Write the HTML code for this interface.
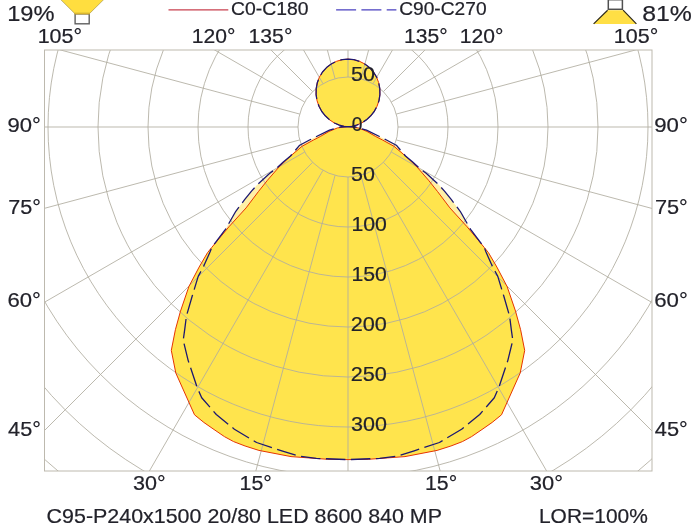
<!DOCTYPE html>
<html><head><meta charset="utf-8"><title>Polar diagram</title>
<style>html,body{margin:0;padding:0;background:#fff}body{width:697px;height:532px;overflow:hidden}</style>
</head><body>
<svg width="697" height="532" viewBox="0 0 697 532" style="display:block">
<defs><clipPath id="fr"><rect x="44.5" y="50.0" width="607.5" height="421.0"/></clipPath></defs>
<rect width="697" height="532" fill="#fff"/>
<g clip-path="url(#fr)">
<polygon points="348.0,126.6 340.3,127.0 329.5,130.2 316.5,136.5 309.5,140.0 299.7,145.2 290.5,156.0 283.6,161.8 276.7,168.1 269.8,173.3 257.2,184.8 251.5,191.1 244.6,199.7 235.8,211.3 225.4,229.4 211.7,247.5 210.1,251.8 203.3,267.1 198.2,276.4 192.3,295.8 186.4,316.1 184.7,329.7 183.2,340.3 188.2,360.6 197.2,387.6 201.7,397.7 216.3,414.5 234.4,429.2 256.6,442.5 281.8,450.8 297.9,455.9 316.3,458.4 348.0,459.6 379.7,458.4 398.1,455.9 414.2,450.8 439.4,442.5 461.6,429.2 479.7,414.5 494.3,397.7 498.8,387.6 507.8,360.6 512.8,340.3 511.3,329.7 509.6,316.1 503.7,295.8 497.8,276.4 492.7,267.1 485.9,251.8 484.3,247.5 470.6,229.4 460.2,211.3 451.4,199.7 444.5,191.1 438.8,184.8 426.2,173.3 419.3,168.1 412.4,161.8 405.5,156.0 396.3,145.2 386.5,140.0 379.5,136.5 366.5,130.2 355.7,127.0 348.0,126.6 348.0,126.6 352.0,126.3 356.7,125.1 361.6,123.0 366.3,119.9 370.5,116.1 374.2,111.5 377.0,106.3 379.0,100.6 379.9,94.7 379.8,88.6 378.7,82.7 376.6,77.1 373.5,72.0 369.5,67.6 364.8,64.0 359.5,61.3 353.9,59.7 348.0,59.1 342.1,59.7 336.5,61.3 331.2,64.0 326.5,67.6 322.5,72.0 319.4,77.1 317.3,82.7 316.2,88.6 316.1,94.7 317.0,100.6 319.0,106.3 321.8,111.5 325.5,116.1 329.7,119.9 334.4,123.0 339.3,125.1 344.0,126.3 348.0,126.6" fill="#fff0a6"/>
<polygon points="348.0,126.6 337.5,127.9 328.9,131.5 320.3,136.5 313.5,140.0 302.0,146.3 290.5,156.1 279.0,167.0 267.5,180.2 258.4,191.6 246.1,207.9 228.9,226.8 211.7,247.5 207.5,252.7 199.1,267.1 188.9,286.5 180.5,311.1 175.4,329.7 171.3,350.4 175.8,373.0 194.5,414.8 203.8,422.4 213.0,428.8 224.4,436.6 233.6,441.6 245.1,446.0 258.9,450.4 291.0,456.6 327.7,459.3 348.0,459.6 368.3,459.3 405.0,456.6 437.1,450.4 450.9,446.0 462.4,441.6 471.6,436.6 483.0,428.8 492.2,422.4 501.5,414.8 520.2,373.0 524.7,350.4 520.6,329.7 515.5,311.1 507.1,286.5 496.9,267.1 488.5,252.7 484.3,247.5 467.1,226.8 449.9,207.9 437.6,191.6 428.5,180.2 417.0,167.0 405.5,156.1 394.0,146.3 382.5,140.0 375.7,136.5 367.1,131.5 358.5,127.9 348.0,126.6 348.0,126.6 352.0,126.3 356.7,125.1 361.6,123.0 366.3,119.9 370.5,116.1 374.2,111.5 377.0,106.3 379.0,100.6 379.9,94.7 379.8,88.6 378.7,82.7 376.6,77.1 373.5,72.0 369.5,67.6 364.8,64.0 359.5,61.3 353.9,59.7 348.0,59.1 342.1,59.7 336.5,61.3 331.2,64.0 326.5,67.6 322.5,72.0 319.4,77.1 317.3,82.7 316.2,88.6 316.1,94.7 317.0,100.6 319.0,106.3 321.8,111.5 325.5,116.1 329.7,119.9 334.4,123.0 339.3,125.1 344.0,126.3 348.0,126.6" fill="#ffe44d"/>
<g fill="none" stroke="#b0ac9f" stroke-width="0.85">
<circle cx="348.0" cy="127.0" r="50"/>
<circle cx="348.0" cy="127.0" r="100"/>
<circle cx="348.0" cy="127.0" r="150"/>
<circle cx="348.0" cy="127.0" r="200"/>
<circle cx="348.0" cy="127.0" r="250"/>
<circle cx="348.0" cy="127.0" r="300"/>
<circle cx="348.0" cy="127.0" r="350"/>
<circle cx="348.0" cy="127.0" r="400"/>
<circle cx="348.0" cy="127.0" r="450"/>
<line x1="348.00" y1="177.00" x2="348.00" y2="727.00"/>
<line x1="360.94" y1="175.30" x2="503.29" y2="706.56"/>
<line x1="373.00" y1="170.30" x2="648.00" y2="646.62"/>
<line x1="383.36" y1="162.36" x2="772.26" y2="551.26"/>
<line x1="391.30" y1="152.00" x2="867.62" y2="427.00"/>
<line x1="396.30" y1="139.94" x2="927.56" y2="282.29"/>
<line x1="398.00" y1="127.00" x2="948.00" y2="127.00"/>
<line x1="396.30" y1="114.06" x2="927.56" y2="-28.29"/>
<line x1="391.30" y1="102.00" x2="867.62" y2="-173.00"/>
<line x1="383.36" y1="91.64" x2="772.26" y2="-297.26"/>
<line x1="373.00" y1="83.70" x2="648.00" y2="-392.62"/>
<line x1="360.94" y1="78.70" x2="503.29" y2="-452.56"/>
<line x1="348.00" y1="77.00" x2="348.00" y2="-473.00"/>
<line x1="335.06" y1="78.70" x2="192.71" y2="-452.56"/>
<line x1="323.00" y1="83.70" x2="48.00" y2="-392.62"/>
<line x1="312.64" y1="91.64" x2="-76.26" y2="-297.26"/>
<line x1="304.70" y1="102.00" x2="-171.62" y2="-173.00"/>
<line x1="299.70" y1="114.06" x2="-231.56" y2="-28.29"/>
<line x1="298.00" y1="127.00" x2="-252.00" y2="127.00"/>
<line x1="299.70" y1="139.94" x2="-231.56" y2="282.29"/>
<line x1="304.70" y1="152.00" x2="-171.62" y2="427.00"/>
<line x1="312.64" y1="162.36" x2="-76.26" y2="551.26"/>
<line x1="323.00" y1="170.30" x2="48.00" y2="646.62"/>
<line x1="335.06" y1="175.30" x2="192.71" y2="706.56"/>
</g>
<polygon points="348.0,126.6 337.5,127.9 328.9,131.5 320.3,136.5 313.5,140.0 302.0,146.3 290.5,156.1 279.0,167.0 267.5,180.2 258.4,191.6 246.1,207.9 228.9,226.8 211.7,247.5 207.5,252.7 199.1,267.1 188.9,286.5 180.5,311.1 175.4,329.7 171.3,350.4 175.8,373.0 194.5,414.8 203.8,422.4 213.0,428.8 224.4,436.6 233.6,441.6 245.1,446.0 258.9,450.4 291.0,456.6 327.7,459.3 348.0,459.6 368.3,459.3 405.0,456.6 437.1,450.4 450.9,446.0 462.4,441.6 471.6,436.6 483.0,428.8 492.2,422.4 501.5,414.8 520.2,373.0 524.7,350.4 520.6,329.7 515.5,311.1 507.1,286.5 496.9,267.1 488.5,252.7 484.3,247.5 467.1,226.8 449.9,207.9 437.6,191.6 428.5,180.2 417.0,167.0 405.5,156.1 394.0,146.3 382.5,140.0 375.7,136.5 367.1,131.5 358.5,127.9 348.0,126.6 348.0,126.6 352.0,126.3 356.7,125.1 361.6,123.0 366.3,119.9 370.5,116.1 374.2,111.5 377.0,106.3 379.0,100.6 379.9,94.7 379.8,88.6 378.7,82.7 376.6,77.1 373.5,72.0 369.5,67.6 364.8,64.0 359.5,61.3 353.9,59.7 348.0,59.1 342.1,59.7 336.5,61.3 331.2,64.0 326.5,67.6 322.5,72.0 319.4,77.1 317.3,82.7 316.2,88.6 316.1,94.7 317.0,100.6 319.0,106.3 321.8,111.5 325.5,116.1 329.7,119.9 334.4,123.0 339.3,125.1 344.0,126.3 348.0,126.6" fill="none" stroke="#e63400" stroke-width="1" stroke-linejoin="round"/>
<polygon points="348.0,126.6 340.3,127.0 329.5,130.2 316.5,136.5 309.5,140.0 299.7,145.2 290.5,156.0 283.6,161.8 276.7,168.1 269.8,173.3 257.2,184.8 251.5,191.1 244.6,199.7 235.8,211.3 225.4,229.4 211.7,247.5 210.1,251.8 203.3,267.1 198.2,276.4 192.3,295.8 186.4,316.1 184.7,329.7 183.2,340.3 188.2,360.6 197.2,387.6 201.7,397.7 216.3,414.5 234.4,429.2 256.6,442.5 281.8,450.8 297.9,455.9 316.3,458.4 348.0,459.6 379.7,458.4 398.1,455.9 414.2,450.8 439.4,442.5 461.6,429.2 479.7,414.5 494.3,397.7 498.8,387.6 507.8,360.6 512.8,340.3 511.3,329.7 509.6,316.1 503.7,295.8 497.8,276.4 492.7,267.1 485.9,251.8 484.3,247.5 470.6,229.4 460.2,211.3 451.4,199.7 444.5,191.1 438.8,184.8 426.2,173.3 419.3,168.1 412.4,161.8 405.5,156.0 396.3,145.2 386.5,140.0 379.5,136.5 366.5,130.2 355.7,127.0 348.0,126.6 348.0,126.6 352.0,126.3 356.7,125.1 361.6,123.0 366.3,119.9 370.5,116.1 374.2,111.5 377.0,106.3 379.0,100.6 379.9,94.7 379.8,88.6 378.7,82.7 376.6,77.1 373.5,72.0 369.5,67.6 364.8,64.0 359.5,61.3 353.9,59.7 348.0,59.1 342.1,59.7 336.5,61.3 331.2,64.0 326.5,67.6 322.5,72.0 319.4,77.1 317.3,82.7 316.2,88.6 316.1,94.7 317.0,100.6 319.0,106.3 321.8,111.5 325.5,116.1 329.7,119.9 334.4,123.0 339.3,125.1 344.0,126.3 348.0,126.6" fill="none" stroke="#1c1872" stroke-width="1.3" stroke-dasharray="19.5 5.5" stroke-dashoffset="10.5" stroke-linejoin="round"/>
</g>
<rect x="44.5" y="50.0" width="607.5" height="421.0" fill="none" stroke="#bdb9ae" stroke-width="1"/>
<line x1="168.5" y1="9.8" x2="228.3" y2="9.8" stroke="#c8414f" stroke-width="1.2"/>
<line x1="336.1" y1="9.9" x2="396.4" y2="9.9" stroke="#4a40c0" stroke-width="1.2" stroke-dasharray="20 5.3"/>
<polygon points="60.1,-1 104.3,-1 89.9,13.2 74.4,13.2" fill="#ffde3f" stroke="#8a7a30" stroke-width="0.5"/>
<rect x="75.1" y="13.9" width="14.1" height="9.9" fill="#fff" stroke="#606060" stroke-width="1.4"/>
<line x1="74.4" y1="13.7" x2="89.9" y2="13.7" stroke="#dcb62c" stroke-width="1.4"/>
<rect x="608.3" y="-0.3" width="14.1" height="9.6" fill="#fff" stroke="#505050" stroke-width="1.5"/>
<polygon points="607.6,10.2 623.1,10.2 636.4,23.9 593.4,23.9" fill="#ffdf45"/>
<path d="M607.6 10.2 L593.6 23.9 M623.1 10.2 L636.4 23.9" stroke="#2e2a1c" stroke-width="1.2" fill="none"/>
<g font-family="'Liberation Sans', Arial, sans-serif" fill="#22222a" stroke="#22222a" stroke-width="0.2">
<text transform="translate(7.15 21.1) scale(1.0479 1)" font-size="22.6px">19%</text>
<text transform="translate(642.22 21.1) scale(1.0979 1)" font-size="22.6px">81%</text>
<text transform="translate(231.02 15.1) scale(1.0750 1)" font-size="18px">C0-C180</text>
<text transform="translate(399.23 15.1) scale(1.0655 1)" font-size="18px">C90-C270</text>
<text transform="translate(37.66 43.3) scale(1.0848 1)" font-size="19.8px">105°</text>
<text transform="translate(191.79 43.3) scale(1.0665 1)" font-size="19.8px">120°</text>
<text transform="translate(248.59 43.3) scale(1.0691 1)" font-size="19.8px">135°</text>
<text transform="translate(404.09 43.3) scale(1.0665 1)" font-size="19.8px">135°</text>
<text transform="translate(459.69 43.3) scale(1.0665 1)" font-size="19.8px">120°</text>
<text transform="translate(613.76 43.3) scale(1.0874 1)" font-size="19.8px">105°</text>
<text transform="translate(7.57 131.7) scale(1.1141 1)" font-size="19.8px">90°</text>
<text transform="translate(8.19 213.5) scale(1.0924 1)" font-size="19.8px">75°</text>
<text transform="translate(7.48 307.3) scale(1.1172 1)" font-size="19.8px">60°</text>
<text transform="translate(8.10 435.7) scale(1.0955 1)" font-size="19.8px">45°</text>
<text transform="translate(654.26 131.7) scale(1.1213 1)" font-size="19.8px">90°</text>
<text transform="translate(654.88 213.5) scale(1.0996 1)" font-size="19.8px">75°</text>
<text transform="translate(654.17 307.3) scale(1.1244 1)" font-size="19.8px">60°</text>
<text transform="translate(654.80 435.7) scale(1.1025 1)" font-size="19.8px">45°</text>
<text transform="translate(132.98 490.4) scale(1.0893 1)" font-size="19.8px">30°</text>
<text transform="translate(239.58 490.4) scale(1.0755 1)" font-size="19.8px">15°</text>
<text transform="translate(424.98 490.4) scale(1.0755 1)" font-size="19.8px">15°</text>
<text transform="translate(529.87 490.4) scale(1.1072 1)" font-size="19.8px">30°</text>
<text transform="translate(350.94 81.2) scale(1.0852 1)" font-size="19.8px">50</text>
<text transform="translate(351.85 131.2) scale(0.9720 1)" font-size="19.8px">0</text>
<text transform="translate(350.94 181.2) scale(1.0852 1)" font-size="19.8px">50</text>
<text transform="translate(351.38 231.2) scale(1.0730 1)" font-size="19.8px">100</text>
<text transform="translate(351.38 281.2) scale(1.0730 1)" font-size="19.8px">150</text>
<text transform="translate(350.71 331.2) scale(1.0938 1)" font-size="19.8px">200</text>
<text transform="translate(350.71 381.2) scale(1.0938 1)" font-size="19.8px">250</text>
<text transform="translate(350.98 431.2) scale(1.0854 1)" font-size="19.8px">300</text>
<text transform="translate(46.61 522.6) scale(1.0714 1)" font-size="20px">C95-P240x1500 20/80 LED 8600 840 MP</text>
<text transform="translate(538.98 522.6) scale(1.0472 1)" font-size="20px">LOR=100%</text>
</g>
</svg>
</body></html>
